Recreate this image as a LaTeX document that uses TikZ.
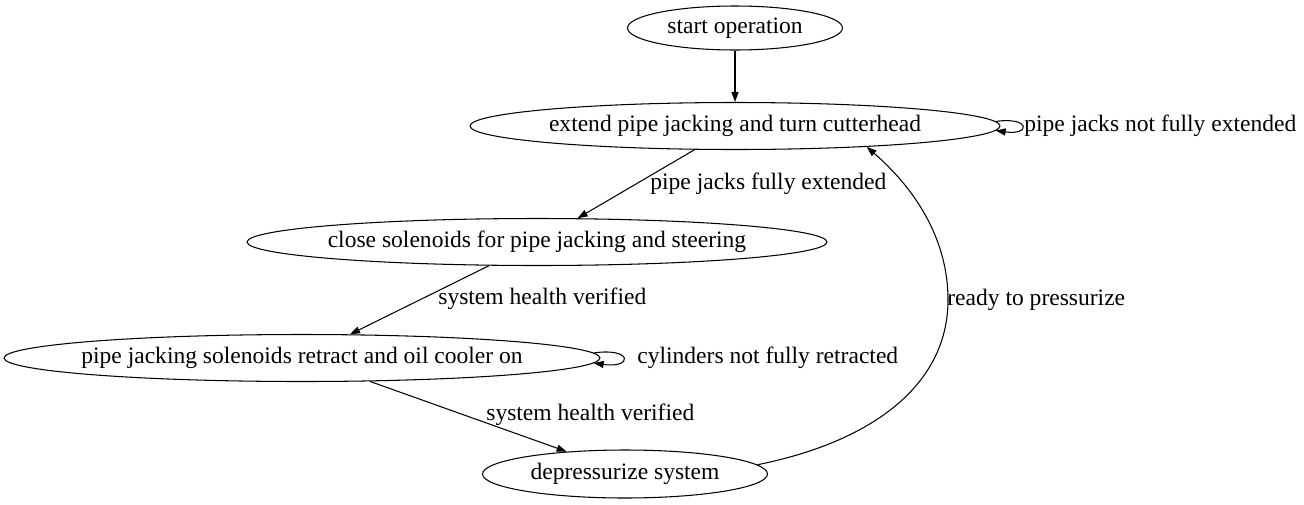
\documentclass[tikz,border=0pt]{standalone}
\usepackage{fontspec}
\setmainfont{Liberation Serif}
\usetikzlibrary{arrows.meta, shapes.geometric}

\begin{document}
\begin{tikzpicture}[
      x=0.02cm, y=-0.02cm,
      font=\fontsize{13.4}{16}\selectfont,
      state/.style={ellipse, draw, line width=0.6pt, inner xsep=-6pt, inner ysep=0pt, minimum height=0.94cm},
      lbl/.style={anchor=west, inner sep=0pt},
      edge/.style={-{Triangle[length=2mm,width=1.4mm]}, line width=0.6pt},
    ]
    \useasboundingbox (0,0) rectangle (1304,504);

    % --- states ---
    \node[state, minimum width=4.3cm, minimum height=0.88cm] (start)   at (735,28)  {start operation};
    \node[state, minimum width=10.6cm]  (extend)  at (735,126) {extend pipe jacking and turn cutterhead};
    \node[state, minimum width=11.6cm]  (close)   at (537,242) {close solenoids for pipe jacking and steering};
    \node[state, minimum width=11.92cm] (retract) at (302,358) {pipe jacking solenoids retract and oil cooler on};
    \node[state, minimum width=5.7cm, minimum height=0.96cm] (depress) at (625,474) {depressurize system};

    % --- transitions ---
    \draw[edge] (start) -- (extend);
    \draw[edge] (extend.1.8) to[out=8, in=-8, looseness=10] (extend.-1.8);
    \draw[edge] (extend) -- (close);
    \draw[edge] (close) -- (retract);
    \draw[edge] (retract.1.8) to[out=8, in=-8, looseness=10] (retract.-1.8);
    \draw[edge] (retract.-19) -- (depress.159);
    \draw[edge] (depress.4) .. controls (880,440) and (948,380) .. (948,300)
                            .. controls (948,230) and (905,180) .. (extend.-9.5);

    % --- labels ---
    \node[lbl] (lnotext)  at (1024,126) {pipe jacks not fully extended};
    \node[lbl] (lext)     at (650,184)  {pipe jacks fully extended};
    \node[lbl] (lhealtha) at (438,299)  {system health verified};
    \node[lbl] (lnotret)  at (637,358)  {cylinders not fully retracted};
    \node[lbl] (lhealthb) at (486,415)  {system health verified};
    \node[lbl] (lready)   at (947,300)  {ready to pressurize};
  \end{tikzpicture}
\end{document}
